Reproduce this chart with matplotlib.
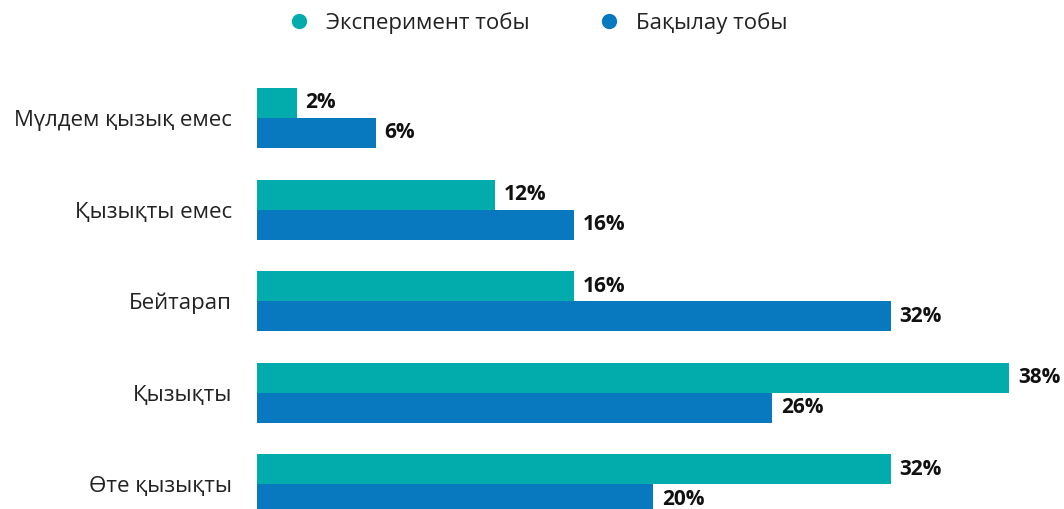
import matplotlib

matplotlib.use("Agg")
import matplotlib.pyplot as plt  # noqa: E402
import numpy as np  # noqa: E402
from matplotlib.lines import Line2D  # noqa: E402

categories = ["Мүлдем қызық емес", "Қызықты емес", "Бейтарап", "Қызықты", "Өте қызықты"]
experiment = [2, 12, 16, 38, 32]
control = [6, 16, 32, 26, 20]
series_names = ["Эксперимент тобы", "Бақылау тобы"]

TEAL = "#02ACAC"
BLUE = "#0879BE"

plt.rcParams["font.family"] = ["Open Sans", "DejaVu Sans"]

W, H = 1064, 509
fig = plt.figure(figsize=(W / 100, H / 100), dpi=100)
# axes spans from the first bar's left edge to the right edge of the figure
ax = fig.add_axes([257 / W, 0, 1 - 257 / W, 1])

y = np.arange(len(categories))
h = 30 / 91.5
ax.barh(y - h / 2, experiment, height=h, color=TEAL)
ax.barh(y + h / 2, control, height=h, color=BLUE)

for yi, v in zip(y, experiment):
    ax.text(v + 0.45, yi - h / 2, f"{v}%", va="center", ha="left",
            fontsize=15, fontweight="bold", color="#111111")
for yi, v in zip(y, control):
    ax.text(v + 0.45, yi + h / 2, f"{v}%", va="center", ha="left",
            fontsize=15, fontweight="bold", color="#111111")

ax.set_xlim(0, (W - 257) / 19.8)
ax.set_ylim((H - 118) / 91.5, -118 / 91.5)
ax.set_yticks(y)
ax.set_yticklabels(categories, fontsize=16, color="#222222")
ax.tick_params(axis="y", length=0, pad=18)
ax.set_xticks([])
for s in ax.spines.values():
    s.set_visible(False)

handles = [Line2D([], [], marker="o", ls="", color=c, markersize=10) for c in (TEAL, BLUE)]
fig.legend(handles, series_names, loc="center", bbox_to_anchor=(532 / W, 1 - 23 / H),
           ncol=2, frameon=False, fontsize=16, handletextpad=0.2, columnspacing=2.6,
           labelcolor="#222222")

fig.savefig("out.png", dpi=100)
